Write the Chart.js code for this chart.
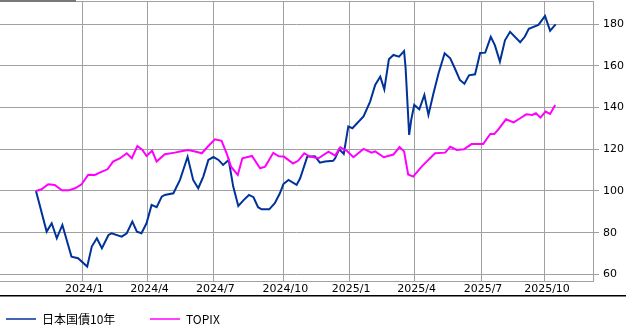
<!DOCTYPE html>
<html>
<head>
<meta charset="utf-8">
<script src="https://cdn.jsdelivr.net/npm/chart.js@4.4.0/dist/chart.umd.min.js"></script>
<style>
    html, body { margin: 0; padding: 0; background: #fff; }
    #wrap { width: 626px; height: 335px; }
</style>
</head>
<body>
<div id="wrap"><canvas id="chart" width="626" height="335"></canvas></div>
<script>
// x values are weeks counted from the first observation (late Oct 2023)
const seriesNames = ["日本国債10年", "TOPIX"];
const seriesColors = ["#003399", "#ff00ff"];

const bondWeeks = [0, 2.1, 3.1, 4.1, 5.2, 7.0, 8.3, 10.1, 11.0, 12.0, 13.0, 14.3, 14.9, 16.9, 17.9, 19.0, 19.9, 20.8, 21.8, 22.8,
    23.8, 24.8, 25.4, 27.1, 28.4, 29.9, 31.0, 32.0, 33.0, 34.0, 35.0, 36.0, 36.9, 38.0, 38.9, 39.9, 40.9, 42.0, 42.9, 43.8,
    44.5, 46.0, 47.1, 48.1, 48.8, 49.8, 51.4, 52.1, 53.5, 55.0, 56.0, 57.0, 58.6, 59.0, 59.8, 60.7, 61.6, 62.4, 64.6, 65.9,
    66.9, 67.9, 68.7, 69.6, 70.5, 71.6, 72.6, 72.9, 73.6, 74.0, 74.6, 75.6, 76.6, 77.4, 78.4, 79.4, 80.6, 81.7, 82.6, 83.6,
    84.5, 85.4, 86.6, 87.6, 88.6, 89.7, 90.5, 91.5, 92.5, 93.5, 95.5, 96.4, 97.2, 99.1, 100.4, 101.4, 102.5];
const bondValues = [100, 80.5, 84.5, 77.3, 83.7, 68.5, 67.7, 63.7, 73.3, 77.3, 72.5, 78.9, 79.7, 78.1, 79.7, 85.3, 80.5, 79.7, 84.5, 93.3,
    92.2, 97.3, 98.1, 98.9, 105.3, 116.4, 105.3, 101.3, 106.9, 114.9, 116.3, 114.9, 112.5, 114.9, 102.1, 92.8, 95.5, 98.1, 97.0, 92.2,
    91.2, 91.2, 94.1, 98.9, 103.3, 105.3, 102.9, 106.1, 116.5, 116.7, 113.6, 114.1, 114.5, 115.7, 120.0, 117.8, 131.0, 130.1, 135.8, 142.9,
    150.9, 154.9, 148.8, 163.2, 165.3, 164.5, 167.1, 159.0, 126.9, 134.0, 141.3, 139.2, 146.1, 136.5, 146.9, 156.5, 166.1, 163.7, 158.9, 153.3,
    151.5, 155.5, 156.0, 166.2, 166.4, 174.0, 170.0, 162.1, 172.3, 176.4, 171.4, 174.0, 177.8, 179.7, 184.0, 176.9, 180.0];

const topixWeeks = [0, 1.1, 2.4, 3.7, 5.1, 6.4, 7.7, 9.0, 10.3, 11.6, 13.0, 14.1, 15.2, 16.6, 17.9, 18.9, 20.0, 21.0, 21.8, 22.9,
    23.8, 25.4, 27.4, 28.4, 30.0, 31.4, 32.7, 34.0, 35.3, 36.6, 37.6, 38.5, 39.8, 40.7, 42.6, 44.2, 45.2, 46.8, 47.9, 48.9,
    50.7, 51.7, 52.9, 54.0, 55.7, 57.7, 59.0, 60.0, 61.3, 62.6, 64.6, 66.2, 66.9, 68.6, 70.5, 71.7, 72.6, 73.4, 74.4, 76.1,
    78.7, 80.7, 81.7, 83.0, 84.4, 85.9, 88.2, 89.6, 90.4, 91.2, 92.7, 94.2, 95.5, 96.7, 97.9, 98.6, 99.5, 100.5, 101.4, 102.4];
const topixValues = [100, 100.8, 103.2, 102.9, 100.3, 100.3, 101.3, 103.2, 107.8, 107.7, 109.3, 110.4, 114.1, 115.7, 118.1, 115.7, 121.6, 119.7, 116.8, 119.3,
    114.1, 117.6, 118.4, 118.9, 119.7, 118.9, 118.1, 121.6, 124.8, 124.1, 118.1, 111.5, 107.7, 115.7, 116.8, 110.9, 111.7, 118.3, 116.6, 116.5,
    113.2, 114.5, 118.1, 116.5, 115.7, 118.9, 117.0, 121.0, 119.3, 116.2, 120.2, 118.4, 119.0, 116.2, 117.5, 121.1, 119.0, 107.9, 106.9, 111.8,
    118.1, 118.4, 121.2, 119.7, 120.0, 122.5, 122.5, 127.4, 127.4, 129.6, 134.4, 132.9, 134.9, 136.8, 136.5, 137.3, 135.2, 138.1, 137.0, 141.3];

const tickWeeks = [9.13, 21.99, 34.97, 48.78, 61.74, 74.69, 87.77, 100.39];
const tickLabels = ["2024/1", "2024/4", "2024/7", "2024/10", "2025/1", "2025/4", "2025/7", "2025/10"];
const yTicks = [60, 80, 100, 120, 140, 160, 180];

const gridColor = "#a0a0a0";
const tickFont = { family: "DejaVu Sans", size: 11 };

function toPoints(xs, ys) {
    return xs.map(function (x, i) { return { x: x, y: ys[i] }; });
}

// frame pieces + legend drawn by hand
const decorPlugin = {
    id: "decor",
    afterDraw: function (chart) {
        let ctx = chart.ctx;
        let area = chart.chartArea;
        ctx.save();
        ctx.fillStyle = gridColor;
        ctx.fillRect(0, area.top, area.right, 1);
        ctx.fillStyle = "#787878";
        ctx.fillRect(0, 0, 76, 2);
        ctx.fillStyle = "#000";
        ctx.fillRect(0, 295, 626, 1.5);

        let legendX = [6, 150];
        ctx.font = "12px 'Noto Sans CJK JP', 'DejaVu Sans'";
        ctx.textBaseline = "middle";
        chart.data.datasets.forEach(function (ds, i) {
            let lx = legendX[i];
            ctx.strokeStyle = ds.borderColor;
            ctx.lineWidth = 1.5;
            ctx.beginPath();
            ctx.moveTo(lx, 319);
            ctx.lineTo(lx + 30, 319);
            ctx.stroke();
            ctx.fillStyle = "#000";
            ctx.fillText(ds.label, lx + 36, 319);
        });
        ctx.restore();
    },
};

new Chart(document.getElementById("chart"), {
    type: "line",
    data: {
        datasets: [
            {
                label: seriesNames[0],
                data: toPoints(bondWeeks, bondValues),
                borderColor: seriesColors[0],
                borderWidth: 2,
                pointRadius: 0,
                tension: 0,
                order: 1,
            },
            {
                label: seriesNames[1],
                data: toPoints(topixWeeks, topixValues),
                borderColor: seriesColors[1],
                borderWidth: 2,
                pointRadius: 0,
                tension: 0,
                order: 0,
            },
        ],
    },
    options: {
        responsive: false,
        animation: false,
        devicePixelRatio: 1,
        layout: { padding: { top: 1, left: 0, right: 0, bottom: 0 } },
        plugins: {
            legend: { display: false },
            tooltip: { enabled: false },
        },
        scales: {
            x: {
                type: "linear",
                min: -7.1,
                max: 109.86,
                afterBuildTicks: function (scale) {
                    scale.ticks = tickWeeks.map(function (v) { return { value: v }; });
                },
                afterFit: function (scale) {
                    scale.height = 54;
                    scale.paddingLeft = 0;
                    scale.paddingRight = 0;
                },
                ticks: {
                    autoSkip: false,
                    maxRotation: 0,
                    padding: 2,
                    labelOffset: 2,
                    color: "#000",
                    font: tickFont,
                    callback: function (value, index) {
                        return tickLabels[index];
                    },
                },
                grid: { color: gridColor, drawTicks: false },
                border: { color: gridColor },
            },
            y: {
                position: "right",
                min: 56.79,
                max: 191.18,
                afterBuildTicks: function (scale) {
                    scale.ticks = yTicks.map(function (v) { return { value: v }; });
                },
                afterFit: function (scale) {
                    scale.width = 33;
                    scale.paddingTop = 0;
                    scale.paddingBottom = 0;
                },
                ticks: {
                    padding: 4,
                    color: "#000",
                    font: tickFont,
                },
                grid: { color: gridColor, tickLength: 6 },
                border: { color: gridColor },
            },
        },
    },
    plugins: [decorPlugin],
});
</script>
</body>
</html>
